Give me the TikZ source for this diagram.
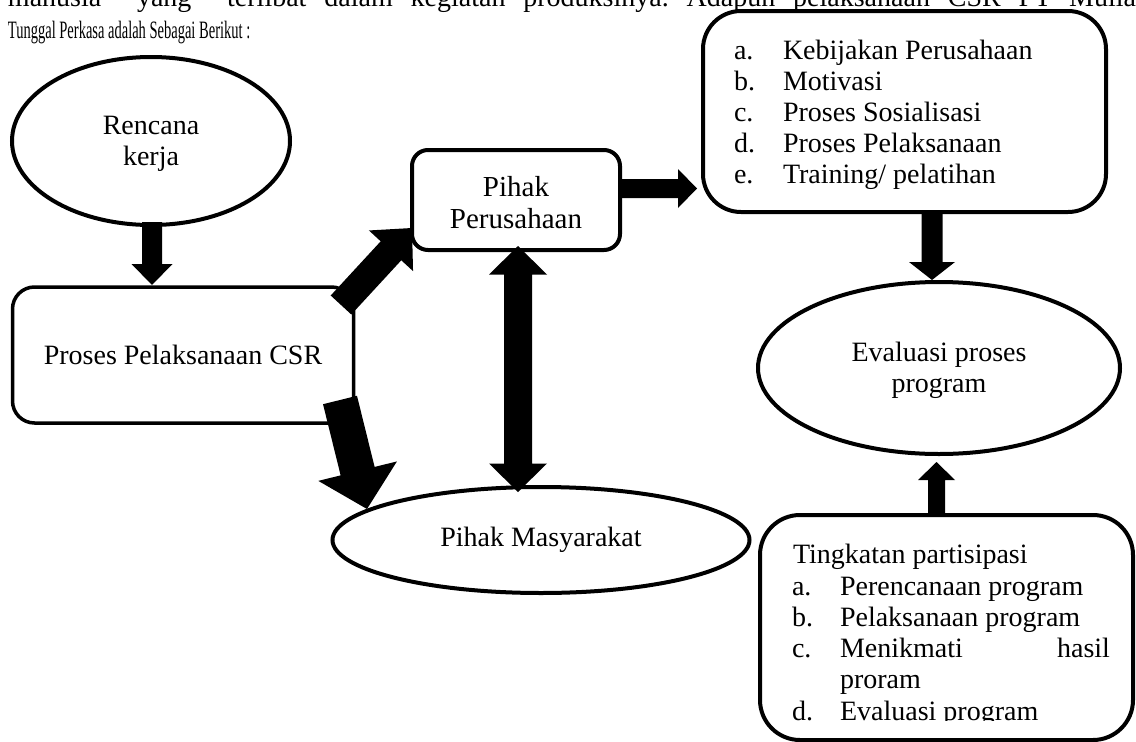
\documentclass[tikz,border=0pt]{standalone}
\usepackage{fontspec}
\setmainfont{Liberation Serif}
\newfontfamily\condfont{Liberation Serif}[FakeStretch=0.58]
\usetikzlibrary{shapes.geometric,calc}
\frenchspacing

% block arrow: #1 tail, #2 tip, #3 half shaft width, #4 half head width, #5 head length
\newcommand\barrow[5]{%
  \coordinate (bh) at ($(#2)!#5!(#1)$);
  \fill ($(#1)!#3!90:(#2)$) -- ($(bh)!#3!90:(#2)$) -- ($(bh)!#4!90:(#2)$) -- (#2)
    -- ($(bh)!#4!-90:(#2)$) -- ($(bh)!#3!-90:(#2)$) -- ($(#1)!#3!-90:(#2)$) -- cycle;
}
% double block arrow
\newcommand\dbarrow[5]{%
  \coordinate (bha) at ($(#2)!#5!(#1)$);
  \coordinate (bhb) at ($(#1)!#5!(#2)$);
  \fill (#1) -- ($(bhb)!#4!90:(#2)$) -- ($(bhb)!#3!90:(#2)$) -- ($(bha)!#3!90:(#2)$)
    -- ($(bha)!#4!90:(#2)$) -- (#2) -- ($(bha)!#4!-90:(#2)$) -- ($(bha)!#3!-90:(#2)$)
    -- ($(bhb)!#3!-90:(#2)$) -- ($(bhb)!#4!-90:(#2)$) -- cycle;
}

\begin{document}
\begin{tikzpicture}[x=1pt,y=-1pt,
  every node/.style={inner sep=0pt, outer sep=0pt},
  txt/.style={font=\fontsize{28}{31}\selectfont},
  condtxt/.style={font=\condfont\fontsize{25}{31}\selectfont},
  ell/.style={draw, ellipse, line width=4pt},
  rbox/.style={draw, rounded corners=#1, line width=4pt},
  rbox/.default=20pt]
\useasboundingbox (0,0) rectangle (1136,742);
\fill[white] (0,0) rectangle (1136,742);

% running text
\node[txt, anchor=base west] (l1) at (8,6) {\frenchspacing\hbox to 1128pt{manusia\ \ yang\ \ terlibat dalam kegiatan produksinya. Adapun pelaksanaan CSR PT Mulia}};
\node[condtxt, anchor=base west] (l2) at (8,38) {Tunggal Perkasa adalah Sebagai Berikut :};

% shapes
\node[ell, minimum width=278pt, minimum height=168pt] (rk) at (151,141) {};
\node[txt, align=center] (rkt) at (151,144) {Rencana\\kerja};
\node[draw, rounded corners=22pt, line width=3.5pt, minimum width=341pt, minimum height=136pt, txt] (pp) at (183,355) {Proses Pelaksanaan CSR};
\node[rbox=16pt, minimum width=208pt, minimum height=100pt] (pk) at (516,200) {};
\node[txt, align=center, font=\fontsize{29}{32}\selectfont] (pkt) at (516,203) {Pihak\\Perusahaan};
\node[ell, minimum width=417pt, minimum height=106pt, txt] (pm) at (541,540) {Pihak Masyarakat};
\node[ell, minimum width=362pt, minimum height=172pt] (ev) at (939,368) {};
\node[txt, align=center] (evt) at (939,370) {Evaluasi proses\\program};
\node[rbox=38pt, minimum width=403pt, minimum height=201pt] (kb) at (904.5,111.5) {};
\node[rbox=40pt, minimum width=373pt, minimum height=225pt] (tp) at (946.5,627.5) {};

% list in top box
\node[txt, anchor=base west] (ka) at (734,59) {a.};
\node[txt, anchor=base west] (kat) at (783,59) {Kebijakan Perusahaan};
\node[txt, anchor=base west] (kbl) at (734,90) {b.};
\node[txt, anchor=base west] (kbt) at (783,90) {Motivasi};
\node[txt, anchor=base west] (kc) at (734,121) {c.};
\node[txt, anchor=base west] (kct) at (783,121) {Proses Sosialisasi};
\node[txt, anchor=base west] (kd) at (734,152) {d.};
\node[txt, anchor=base west] (kdt) at (783,152) {Proses Pelaksanaan};
\node[txt, anchor=base west] (ke) at (734,183) {e.};
\node[txt, anchor=base west] (ket) at (783,183) {Training/ pelatihan};

% list in bottom box
\begin{scope}
\clip (760,515) rectangle (1136,720);
\node[txt, anchor=base west] (tt) at (793,563) {Tingkatan partisipasi};
\node[txt, anchor=base west] (ta) at (792,595) {a.};
\node[txt, anchor=base west] (tat) at (840,595) {Perencanaan program};
\node[txt, anchor=base west] (tb) at (792,626) {b.};
\node[txt, anchor=base west] (tbt) at (840,626) {Pelaksanaan program};
\node[txt, anchor=base west] (tc) at (792,657) {c.};
\node[txt, anchor=base west] (tct) at (840,657) {Menikmati};
\node[txt, anchor=base east] (tcu) at (1110,657) {hasil};
\node[txt, anchor=base west] (tcv) at (840,688) {proram};
\node[txt, anchor=base west] (td) at (792,720) {d.};
\node[txt, anchor=base west] (tdt) at (840,720) {Evaluasi program};
\end{scope}

% connector end points
\coordinate (rk-o) at (152,222);
\coordinate (pp-i) at (152,285);
\coordinate (pp-o1) at (341,305);
\coordinate (pk-i) at (412,228);
\coordinate (pp-o2) at (340,400);
\coordinate (pm-i) at (367,509);
\coordinate (pk-b) at (518,246);
\coordinate (pm-t) at (518,492);
\coordinate (pk-o) at (620,188.5);
\coordinate (kb-i) at (697,188.5);
\coordinate (kb-o) at (932,213);
\coordinate (ev-i1) at (932,280);
\coordinate (tp-o) at (936.5,515);
\coordinate (ev-i2) at (936.5,462);

% arrows
\barrow{rk-o}{pp-i}{10pt}{20.5pt}{21pt}
\barrow{pp-o1}{pk-i}{14pt}{30pt}{31pt}
\barrow{pp-o2}{pm-i}{17.5pt}{40.5pt}{39pt}
\dbarrow{pk-b}{pm-t}{14pt}{29pt}{28.5pt}
\barrow{pk-o}{kb-i}{9.5pt}{19.5pt}{19pt}
\barrow{kb-o}{ev-i1}{10.5pt}{23pt}{18pt}
\barrow{tp-o}{ev-i2}{8.5pt}{18.5pt}{18pt}
\end{tikzpicture}
\end{document}
